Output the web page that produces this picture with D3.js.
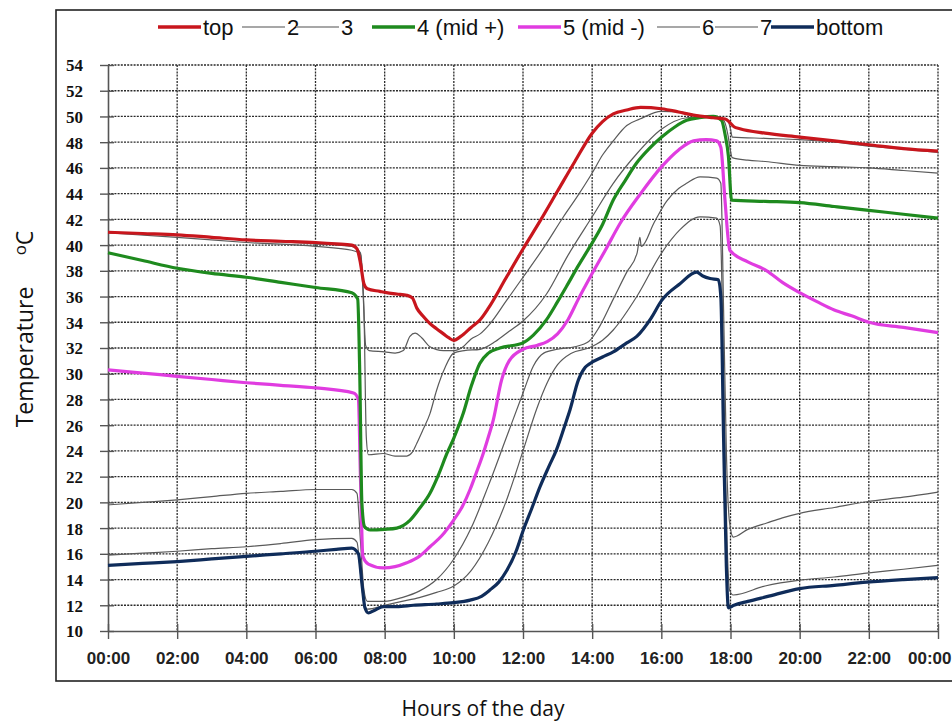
<!DOCTYPE html>
<html>
<head>
<meta charset="utf-8">
<script src="https://cdn.jsdelivr.net/npm/d3@7/dist/d3.min.js"></script>
<style>
body { margin: 0; background: #fff; }
</style>
</head>
<body>
<div id="chart-div"></div>
<script>
// Temperature readings, [hour of day, oC].
var seriesNames = ["top", "2", "3", "4 (mid +)", "5 (mid -)", "6", "7", "bottom"];

var topValues = [[0,41.0],[1,40.9],[2,40.8],[3,40.6],[4,40.4],[5,40.3],[6,40.2],[6.6,40.1],[7.05,40.0],[7.2,39.7],[7.3,38.6],[7.4,37.0],[7.5,36.6],[7.86,36.4],[8.05,36.3],[8.35,36.2],[8.64,36.1],[8.8,35.9],[8.93,35.1],[9.1,34.5],[9.31,33.9],[9.5,33.5],[9.7,33.1],[9.85,32.8],[10.0,32.6],[10.2,32.9],[10.5,33.6],[10.76,34.2],[11.0,35.1],[11.5,37.4],[12.0,39.7],[12.5,41.9],[13.0,44.2],[13.5,46.5],[14.0,48.7],[14.3,49.6],[14.61,50.2],[15.0,50.5],[15.4,50.7],[16.0,50.6],[16.5,50.35],[16.93,50.1],[17.5,49.9],[17.85,49.8],[17.99,49.5],[18.1,49.2],[18.27,49.05],[19,48.7],[20,48.4],[21,48.1],[22,47.8],[23,47.5],[24,47.3]];

var s2Values = [[0,41.0],[2,40.8],[4,40.4],[6,40.1],[7.05,39.9],[7.3,39.4],[7.38,36],[7.45,32.2],[7.55,31.8],[8.0,31.7],[8.3,31.6],[8.54,31.8],[8.73,32.9],[8.88,33.15],[9.07,32.8],[9.31,32.1],[9.7,31.8],[10.0,31.8],[10.27,32.1],[10.5,32.7],[10.76,33.1],[11.05,33.9],[11.5,35.6],[12.0,37.5],[12.6,39.8],[13.17,42.2],[13.6,43.9],[14.0,45.6],[14.3,47.0],[14.61,48.1],[15.0,49.3],[15.38,49.8],[16.0,50.4],[16.5,50.35],[17.0,50.1],[17.5,49.9],[17.9,49.8],[18.0,49.0],[18.05,48.4],[19,48.3],[20,48.2],[21,48.0],[22,47.7],[23,47.45],[24,47.2]];

var s3Values = [[0,40.95],[2,40.6],[4,40.2],[6,39.9],[7.05,39.6],[7.3,39.3],[7.4,35],[7.47,25],[7.53,23.7],[7.96,23.8],[8.3,23.6],[8.64,23.6],[8.8,23.9],[8.93,24.6],[9.1,25.6],[9.31,26.9],[9.5,28.7],[9.75,30.5],[9.99,31.6],[10.3,31.8],[10.76,31.9],[11.2,32.5],[11.6,33.3],[12.0,34.1],[12.68,36.2],[13.3,39.2],[14.0,42.2],[14.61,44.8],[15.29,47.1],[16.0,49.0],[16.73,49.9],[17.5,50.0],[17.8,49.7],[17.93,48.5],[18.0,47.3],[18.05,46.8],[18.5,46.6],[19,46.5],[20,46.2],[21,46.1],[22,46.0],[23,45.8],[24,45.6]];

var midPlusValues = [[0,39.4],[1,38.8],[2,38.2],[3,37.8],[4,37.5],[5,37.1],[6,36.7],[7.05,36.3],[7.22,35.8],[7.28,30],[7.34,20],[7.42,18.1],[7.58,17.85],[8.0,17.9],[8.35,18.0],[8.73,18.6],[9.0,19.5],[9.31,20.7],[9.55,22.1],[9.8,23.8],[10.0,25.0],[10.27,26.9],[10.5,29.0],[10.75,30.8],[11.0,31.6],[11.33,32.0],[12.0,32.4],[12.3,33.0],[12.68,34.2],[13.0,35.6],[13.26,36.8],[13.6,38.4],[13.94,39.9],[14.3,41.6],[14.61,43.5],[14.95,45.0],[15.29,46.4],[15.65,47.5],[16.01,48.4],[16.4,49.2],[16.73,49.7],[17.1,49.9],[17.5,50.0],[17.74,49.7],[17.85,48.5],[17.94,46.9],[18.03,43.5],[19,43.4],[20,43.3],[21,43.0],[22,42.7],[23,42.4],[24,42.1]];

var midMinusValues = [[0,30.3],[1,30.05],[2,29.8],[3,29.55],[4,29.3],[5,29.1],[6,28.9],[7.1,28.5],[7.24,28.0],[7.3,22],[7.37,15.8],[7.53,15.2],[7.96,14.9],[8.3,15.0],[8.64,15.3],[9.0,15.8],[9.31,16.55],[9.65,17.4],[9.99,18.6],[10.25,19.7],[10.47,21.0],[10.65,22.3],[10.85,23.8],[11.0,25.1],[11.14,26.4],[11.38,29.5],[11.6,31.0],[12.0,31.9],[12.4,32.2],[12.7,32.5],[13.0,33.1],[13.3,34.2],[13.6,35.8],[13.94,37.5],[14.4,39.7],[14.81,41.7],[15.4,44.0],[16.01,46.1],[16.5,47.4],[16.93,48.1],[17.3,48.2],[17.6,48.1],[17.72,47.6],[17.84,43.5],[17.98,39.6],[18.5,38.7],[19.05,38.0],[19.5,37.1],[20.0,36.3],[20.5,35.6],[21.0,34.95],[21.5,34.5],[22.0,34.0],[23.0,33.6],[24,33.2]];

var s6Values = [[0,19.8],[1,20.0],[2,20.2],[3,20.45],[4,20.7],[5,20.85],[6,21.0],[7.05,21.0],[7.2,20.7],[7.3,17],[7.4,13.2],[7.5,12.3],[8.0,12.3],[8.5,12.6],[9.0,13.1],[9.5,14.0],[10.0,15.6],[10.5,18.0],[11.0,21.3],[11.5,24.9],[12.0,28.5],[12.3,30.6],[12.6,31.6],[13.0,31.9],[13.5,32.1],[13.9,32.5],[14.2,33.6],[14.61,35.8],[15.0,37.9],[15.3,39.4],[15.38,40.6],[15.42,39.9],[15.8,41.8],[16.15,43.4],[16.5,44.4],[16.73,44.8],[17.12,45.3],[17.6,45.2],[17.72,44.8],[17.8,35],[17.88,24],[17.97,18.5],[18.08,17.3],[18.5,17.9],[19.05,18.4],[19.5,18.8],[20,19.15],[21,19.6],[21.94,20.05],[23,20.4],[24,20.8]];

var s7Values = [[0,15.9],[1,16.05],[2,16.2],[3,16.4],[4,16.55],[5,16.8],[6,17.1],[7.05,17.2],[7.2,16.9],[7.3,14.5],[7.4,12.2],[7.5,11.7],[8.0,12.0],[8.5,12.3],[9.0,12.6],[9.5,13.0],[10.0,13.5],[10.5,14.7],[11.0,16.9],[11.5,20.0],[12.0,24.0],[12.4,27.3],[12.7,29.3],[13.0,30.7],[13.4,31.6],[13.9,32.0],[14.3,32.6],[14.61,33.4],[15.29,36.0],[16.01,39.4],[16.54,41.2],[17.12,42.2],[17.6,42.1],[17.7,41.5],[17.8,30],[17.9,17],[17.97,13.2],[18.08,12.8],[19,13.5],[20,13.95],[21,14.2],[21.94,14.5],[23,14.8],[24,15.1]];

var bottomValues = [[0,15.1],[1,15.25],[2,15.4],[3,15.6],[4,15.8],[5,16.0],[6,16.2],[6.6,16.35],[7.05,16.45],[7.24,16.0],[7.35,13.5],[7.43,11.8],[7.53,11.4],[7.7,11.6],[7.96,11.9],[8.35,11.9],[8.83,12.0],[9.5,12.1],[9.99,12.2],[10.47,12.4],[10.8,12.7],[11.05,13.2],[11.3,13.8],[11.53,14.7],[11.8,16.2],[12.01,17.85],[12.25,19.5],[12.49,21.2],[12.75,22.8],[12.97,24.1],[13.2,25.9],[13.36,27.2],[13.6,29.5],[13.8,30.5],[13.94,30.8],[14.3,31.3],[14.61,31.7],[15.0,32.4],[15.29,32.9],[15.7,34.3],[16.01,35.7],[16.54,37.0],[17.02,37.9],[17.2,37.6],[17.41,37.4],[17.65,37.3],[17.72,36],[17.8,25],[17.88,15],[17.94,11.8],[18.1,12.0],[18.5,12.3],[19.05,12.67],[20.0,13.3],[21,13.55],[21.94,13.8],[23,14.0],[24,14.15]];

var xTickHours = [0, 2, 4, 6, 8, 10, 12, 14, 16, 18, 20, 22, 24];
var xTickLabels = ["00:00", "02:00", "04:00", "06:00", "08:00", "10:00", "12:00", "14:00", "16:00", "18:00", "20:00", "22:00", "00:00"];
var yTickValues = [10, 12, 14, 16, 18, 20, 22, 24, 26, 28, 30, 32, 34, 36, 38, 40, 42, 44, 46, 48, 50, 52, 54];

// Styles for each series, same order as seriesNames.
var seriesColors = ["#c8161d", "#5a5a5a", "#5a5a5a", "#1e8a1e", "#e03ce0", "#5a5a5a", "#5a5a5a", "#0f2c5a"];
var seriesWidths = [3.2, 1.2, 1.2, 3.2, 3.2, 1.2, 1.2, 3.2];
var legendTextX = [203, 287, 341, 417, 563, 702, 760, 816];

var chart = { "svg": null, "x": null, "y": null,
    "width": 952, "height": 722,
    "left": 108, "right": 938, "top": 65, "bottom": 631
};

function renderChart() {
    var byName = [topValues, s2Values, s3Values, midPlusValues, midMinusValues, s6Values, s7Values, bottomValues];
    // thin grey sensors first, thick ones on top
    var drawOrder = [1, 2, 5, 6, 7, 4, 3, 0];

    chart.svg = d3.select("#chart-div").append("svg")
        .attr("width", chart.width)
        .attr("height", chart.height)
        .style("font-family", "'Liberation Sans', Arial, sans-serif");

    chart.x = d3.scaleLinear().domain([0, 24]).range([chart.left, chart.right]);
    chart.y = d3.scaleLinear().domain([10, 54]).range([chart.bottom, chart.top]);

    // outer frame (right edge runs off the picture)
    chart.svg.append("rect")
        .attr("x", 56).attr("y", 10)
        .attr("width", 910).attr("height", 671)
        .attr("fill", "none").attr("stroke", "#222").attr("stroke-width", 1.6);

    // dashed grid
    var grid = chart.svg.append("g");
    grid.selectAll(".hgrid")
        .data(yTickValues.filter(function(d) { return d > 10; }))
        .enter().append("line")
        .attr("x1", chart.left).attr("x2", chart.right)
        .attr("y1", function(d) { return chart.y(d); })
        .attr("y2", function(d) { return chart.y(d); })
        .attr("stroke", "#2a2a2a").attr("stroke-width", 1.3)
        .attr("stroke-dasharray", "2,1.2");
    grid.selectAll(".vgrid")
        .data(xTickHours.filter(function(d) { return d > 0; }))
        .enter().append("line")
        .attr("y1", chart.top).attr("y2", chart.bottom)
        .attr("x1", function(d) { return chart.x(d); })
        .attr("x2", function(d) { return chart.x(d); })
        .attr("stroke", "#2a2a2a").attr("stroke-width", 1.3)
        .attr("stroke-dasharray", "2,1.2");

    // axes with ticks crossing the line
    var xAxis = d3.axisBottom(chart.x)
        .tickValues(xTickHours)
        .tickSizeInner(8).tickSizeOuter(0)
        .tickFormat(function(d, i) { return xTickLabels[i]; });
    var gx = chart.svg.append("g")
        .attr("transform", "translate(0," + chart.bottom + ")")
        .call(xAxis);
    gx.select(".domain").attr("stroke", "#555").attr("stroke-width", 1.6);
    gx.selectAll(".tick line").attr("y1", -7).attr("stroke", "#555").attr("stroke-width", 1.4);
    gx.selectAll(".tick text")
        .attr("y", 33).attr("dy", 0)
        .style("font-family", "'Liberation Sans', Arial, sans-serif")
        .style("font-size", "17px").style("font-weight", "bold")
        .attr("fill", "#222");
    // last label is pulled in so it stays inside the picture
    gx.selectAll(".tick text").filter(function(d) { return d === 24; })
        .attr("text-anchor", "end").attr("x", 13);

    var yAxis = d3.axisLeft(chart.y)
        .tickValues(yTickValues)
        .tickSizeInner(8).tickSizeOuter(0);
    var gy = chart.svg.append("g")
        .attr("transform", "translate(" + chart.left + ",0)")
        .call(yAxis);
    gy.select(".domain").attr("stroke", "#555").attr("stroke-width", 1.6);
    gy.selectAll(".tick line").attr("x1", 6).attr("stroke", "#555").attr("stroke-width", 1.4);
    gy.selectAll(".tick text")
        .attr("x", -25).attr("dy", "0.35em")
        .style("font-family", "'Liberation Serif', 'Times New Roman', serif")
        .style("font-size", "17px").style("font-weight", "bold")
        .attr("fill", "#111");

    // series lines
    var line = d3.line()
        .x(function(d) { return chart.x(d[0]); })
        .y(function(d) { return chart.y(d[1]); })
        .curve(d3.curveMonotoneX);

    drawOrder.forEach(function(i) {
        chart.svg.append("path")
            .datum(byName[i])
            .attr("fill", "none")
            .attr("stroke", seriesColors[i])
            .attr("stroke-width", seriesWidths[i])
            .attr("stroke-linejoin", "round")
            .attr("d", line);
    });

    // legend
    var legend = chart.svg.append("g");
    seriesNames.forEach(function(name, i) {
        var tx = legendTextX[i];
        legend.append("line")
            .attr("x1", tx - 45).attr("x2", tx - 2)
            .attr("y1", 27).attr("y2", 27)
            .attr("stroke", seriesWidths[i] > 2 ? seriesColors[i] : "#8a8a8a")
            .attr("stroke-width", seriesWidths[i] > 2 ? 3.4 : 1.6);
        legend.append("text")
            .attr("x", tx).attr("y", 35)
            .style("font-size", "22px")
            .attr("fill", "#111")
            .text(name);
    });

    // axis titles
    chart.svg.append("text")
        .attr("x", 483).attr("y", 716)
        .attr("text-anchor", "middle")
        .style("font-family", "'Open Sans', 'Noto Sans', sans-serif")
        .style("font-size", "21px")
        .attr("fill", "#111")
        .text("Hours of the day");

    chart.svg.append("text")
        .attr("transform", "translate(33,357) rotate(-90)")
        .attr("text-anchor", "middle")
        .style("font-family", "'Open Sans', 'Noto Sans', sans-serif")
        .style("font-size", "23px")
        .attr("fill", "#111")
        .text("Temperature");

    var unit = chart.svg.append("text")
        .attr("transform", "translate(33,243) rotate(-90)")
        .attr("text-anchor", "middle")
        .style("font-family", "'Open Sans', 'Noto Sans', sans-serif")
        .style("font-size", "23px")
        .attr("fill", "#111");
    unit.append("tspan").attr("dy", -7).style("font-size", "17px").text("o");
    unit.append("tspan").attr("dy", 7).text("C");
}

renderChart();
</script>
</body>
</html>
